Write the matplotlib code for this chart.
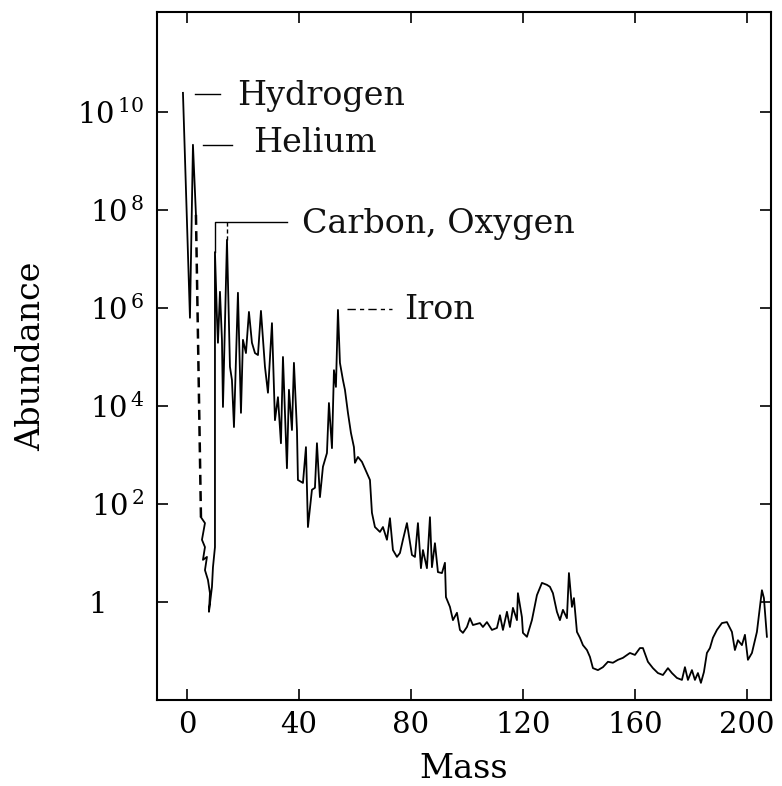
import numpy as np
import matplotlib
matplotlib.use("Agg")
import matplotlib.pyplot as plt
from matplotlib.ticker import FixedLocator, FuncFormatter

plt.rcParams['font.family'] = ['DejaVu Serif']
plt.rcParams['mathtext.fontset'] = 'dejavuserif'

# --- data (mass number, log10 abundance) ---
h_he_mass = [-1.43, 1.07, 2.14, 3.21]
h_he_log = [10.39, 5.80, 9.33, 7.90]

gap_mass = [3.21, 5.0]
gap_log = [7.90, 1.73]

main_mass = [5.0, 6.43, 5.36, 6.43, 5.71, 7.14, 6.43, 7.5, 8.21, 7.86, 8.93, 9.29, 10.0,
             10.0, 10.71, 11.07, 11.79, 12.5, 12.86, 14.29, 15.36, 16.07, 16.79, 18.21,
             19.29, 20.0, 21.07, 22.14, 23.21, 24.29, 25.36, 26.43, 27.86, 28.93, 30.36,
             31.43, 32.5, 33.57, 34.29, 35.71, 36.43, 37.5, 38.21, 39.29, 39.64, 41.43,
             42.5, 43.21, 44.64, 45.71, 46.43, 47.5, 48.57, 50.0, 50.71, 51.79, 52.5,
             53.21, 53.93, 54.64, 55.71, 56.43, 57.5, 58.57, 59.64, 60.0, 61.07, 62.5,
             64.29, 65.36, 66.07, 67.14, 68.93, 70.0, 71.43, 72.5, 73.57, 75.0, 76.07,
             77.14, 78.57, 80.36, 81.43, 82.5, 83.57, 84.29, 85.71, 86.79, 87.5, 88.57,
             89.64, 91.07, 92.14, 92.5, 93.93, 95.0, 96.43, 97.5, 98.57, 100.0, 101.07,
             102.14, 104.64, 105.71, 107.14, 108.93, 110.71, 111.79, 112.86, 114.29,
             115.36, 116.43, 117.86, 118.21, 119.64, 120.0, 121.43, 123.21, 125.0,
             126.79, 128.57, 129.64, 130.71, 132.14, 133.21, 134.29, 135.71, 136.43,
             137.5, 138.21, 139.29, 140.36, 141.43, 142.86, 143.93, 145.0, 146.79,
             148.57, 150.36, 152.14, 153.93, 155.71, 158.21, 160.0, 161.79, 162.86,
             164.64, 166.43, 168.21, 170.0, 171.79, 173.21, 175.0, 176.79, 177.86,
             178.93, 180.36, 181.43, 182.5, 183.57, 184.64, 185.71, 186.79, 187.86,
             189.29, 191.07, 192.86, 194.64, 195.71, 196.79, 198.21, 199.29, 200.36,
             201.79, 203.57, 205.36, 206.07, 207.14]
main_log = [1.73, 1.61, 1.27, 1.12, 0.86, 0.92, 0.65, 0.45, 0.18, -0.20, 0.31, 0.71, 1.12,
            7.14, 5.82, 5.29, 6.33, 5.35, 3.98, 7.39, 4.80, 4.53, 3.57, 6.31,
            3.86, 5.35, 5.08, 5.92, 5.29, 5.08, 5.04, 5.94, 4.80, 4.27, 5.69,
            3.71, 4.18, 3.24, 5.00, 2.73, 4.33, 3.51, 4.88, 3.51, 2.49, 2.43,
            3.16, 1.53, 2.29, 2.33, 3.24, 2.14, 2.76, 3.04, 4.06, 3.14, 4.73,
            4.39, 5.96, 4.88, 4.53, 4.33, 3.86, 3.45, 3.16, 2.84, 2.96, 2.86,
            2.63, 2.49, 1.82, 1.53, 1.43, 1.53, 1.27, 1.71, 1.06, 0.92, 1.00,
            1.27, 1.61, 0.96, 0.92, 1.61, 0.69, 1.06, 0.69, 1.73, 0.71, 1.20,
            0.61, 0.59, 0.80, 0.10, -0.10, -0.37, -0.22, -0.57, -0.63, -0.51, -0.33,
            -0.47, -0.43, -0.51, -0.41, -0.57, -0.53, -0.27, -0.57, -0.20,
            -0.51, -0.12, -0.37, 0.18, -0.31, -0.63, -0.71, -0.37, 0.14,
            0.39, 0.35, 0.31, 0.18, -0.20, -0.37, -0.16, -0.33, 0.59,
            -0.10, 0.08, -0.61, -0.73, -0.88, -0.98, -1.12, -1.35, -1.39,
            -1.33, -1.22, -1.24, -1.18, -1.14, -1.04, -1.08, -0.94, -0.94,
            -1.22, -1.35, -1.45, -1.49, -1.35, -1.45, -1.55, -1.59, -1.33,
            -1.59, -1.39, -1.59, -1.45, -1.65, -1.43, -1.04, -0.94, -0.73,
            -0.57, -0.43, -0.41, -0.61, -0.98, -0.78, -0.88, -0.67, -1.18,
            -1.04, -0.61, 0.24, 0.08, -0.71]

x_ticks = [0, 40, 80, 120, 160, 200]
y_tick_exps = [0, 2, 4, 6, 8, 10]

labels = ["Hydrogen", "Helium", "Carbon, Oxygen", "Iron"]
label_mass = [17.9, 23.5, 41.1, 77.5]
label_log = [10.14, 9.18, 7.53, 5.78]

# --- figure ---
fig = plt.figure(figsize=(7.82, 7.86), dpi=100)
ax = fig.add_axes([157/782, 1 - 700/786, (771 - 157)/782, (700 - 12)/786])

lw = 1.3
ax.plot(h_he_mass, 10.0**np.array(h_he_log), color='black', lw=lw)
ax.plot(gap_mass, 10.0**np.array(gap_log), color='black', lw=1.8, ls=(0, (4, 2.5)))
ax.plot(main_mass, 10.0**np.array(main_log), color='black', lw=lw)

ax.set_yscale('log')
ax.set_xlim(-10.7, 208.6)
ax.set_ylim(1e-2, 10**12.04)

# leader lines for labels
ax.plot([2.9, 11.8], [10**10.37] * 2, color='black', lw=1.0)
ax.plot([5.7, 16.1], [10**9.33] * 2, color='black', lw=1.0)
ax.plot([10.0, 10.0, 35.7], [10**7.14, 10**7.76, 10**7.76], color='black', lw=1.0)
ax.plot([14.29, 14.29], [10**7.39, 10**7.76], color='black', lw=1.0, ls=(0, (3, 2)))
ax.plot([57.1, 73.2], [10**5.98] * 2, color='black', lw=1.0, ls=(0, (6, 3, 3, 3)))

for t, m, l in zip(labels, label_mass, label_log):
    ax.text(m, 10**l, t, fontsize=24, ha='left', va='baseline', color='#111111')

ax.xaxis.set_major_locator(FixedLocator(x_ticks))
ax.yaxis.set_major_locator(FixedLocator([10.0**e for e in y_tick_exps]))
ax.yaxis.set_minor_locator(FixedLocator([]))


def yfmt(v, pos):
    e = int(round(np.log10(v)))
    if e == 0:
        return '1\u2007\u2007'
    return r'$10^{\,%d}$' % e


ax.yaxis.set_major_formatter(FuncFormatter(yfmt))
ax.tick_params(axis='both', which='major', direction='in', length=8, width=1.2,
               top=True, right=True, labelsize=21, pad=8)
ax.tick_params(axis='y', pad=9)

for s in ax.spines.values():
    s.set_linewidth(1.5)

ax.set_xlabel('Mass', fontsize=24, labelpad=10)
ax.set_ylabel('Abundance', fontsize=24, labelpad=22)

fig.savefig('out.png', dpi=100)
